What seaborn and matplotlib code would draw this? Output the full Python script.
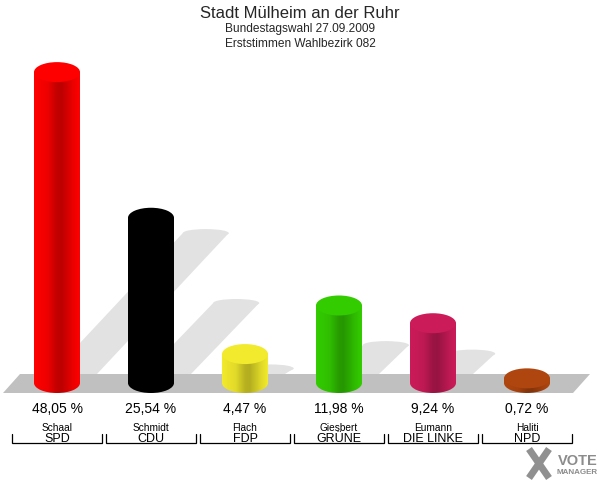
import numpy as np
import matplotlib
matplotlib.use("Agg")
import matplotlib.pyplot as plt
from matplotlib.patches import Ellipse, Polygon
from matplotlib.lines import Line2D
from matplotlib.colors import to_rgb
import seaborn as sns

# data
parties = ["SPD", "CDU", "FDP", "GRÜNE", "DIE LINKE", "NPD"]
candidates = ["Schaal", "Schmidt", "Flach", "Giesbert", "Eumann", "Haliti"]
values = [48.05, 25.54, 4.47, 11.98, 9.24, 0.72]
colors = ["#ff0000", "#000000", "#f2ea2c", "#33cc00", "#cc1b59", "#b0460f"]

# pixel layout helpers (600x480 canvas)
BASE_PX = 383.0      # pixel row of the value 0
PX_PER_PCT = 6.47
PX_PER_CAT = 94.0
FIRST_PX = 57.0


def py(p):
    return (BASE_PX - p) / PX_PER_PCT


def px(p):
    return (p - FIRST_PX) / PX_PER_CAT


sns.set_theme(style="white")
plt.rcParams["font.family"] = ["Liberation Sans", "DejaVu Sans"]

fig = plt.figure(figsize=(6, 4.8), dpi=100)
ax = fig.add_axes([0, 0, 1, 1])
ax.set_axis_off()

bar_w = 46 / PX_PER_CAT
ell_h = 20 / PX_PER_PCT

sns.barplot(x=parties, y=values, hue=parties, palette=colors, width=bar_w,
            legend=False, ax=ax, linewidth=0, zorder=3)
bars = list(ax.patches)

# floor
floor_top = py(374)
floor = Polygon([(px(3), py(393)), (px(573), py(393)), (px(590), py(374)), (px(20), py(374))],
                closed=True, facecolor="#c0c0c0", edgecolor="none", zorder=0)
ax.add_patch(floor)

# shadows
for i, v in enumerate(values):
    h = 0.48 * (v - floor_top)
    if h <= 0:
        continue
    s = 0.0626 * h
    c = i + 17 / PX_PER_CAT
    cap = 8 / PX_PER_PCT
    shadow = Polygon([(c - bar_w / 2, floor_top), (c + bar_w / 2, floor_top),
                      (c + bar_w / 2 + s, floor_top + h - cap / 2),
                      (c - bar_w / 2 + s, floor_top + h - cap / 2)],
                     closed=True, facecolor="#e2e2e2", edgecolor="none", zorder=1)
    ax.add_patch(shadow)
    ax.add_patch(Ellipse((c + s, floor_top + h - cap / 2), bar_w, cap,
                         facecolor="#e2e2e2", edgecolor="none", zorder=1))

# cylinder shading
t = np.linspace(0, 1, 64)
shade = np.interp(t, [0, 0.3, 0.5, 0.6, 0.85, 1], [1.0, 0.93, 0.76, 0.74, 0.92, 1.0])
for i, (v, col) in enumerate(zip(values, colors)):
    rgb = np.array(to_rgb(col))
    grad = (shade[:, None] * rgb[None, :])[None, :, :]
    ext = [i - bar_w / 2, i + bar_w / 2, -ell_h / 2 - 0.2, v]
    bottom = Ellipse((i, 0), bar_w, ell_h, facecolor="none", edgecolor="none")
    ax.add_patch(bottom)
    im1 = ax.imshow(grad, extent=ext, aspect="auto", zorder=4, interpolation="bilinear")
    im1.set_clip_path(bottom)
    im2 = ax.imshow(grad, extent=ext, aspect="auto", zorder=5, interpolation="bilinear")
    im2.set_clip_path(bars[i])
    top = Ellipse((i, v), bar_w, ell_h, facecolor=col, edgecolor="none", zorder=6)
    ax.add_patch(top)

# labels below
for i, (v, cand, party) in enumerate(zip(values, candidates, parties)):
    ax.text(i, py(413), f"{v:.2f}".replace(".", ",") + " %", ha="center", va="baseline",
            fontsize=10, color="black")
    ax.text(i, py(431), cand, ha="center", va="baseline", fontsize=7.3, color="black")
    ax.text(i, py(442), party, ha="center", va="baseline", fontsize=9, color="black")
    l, r = i - 45 / PX_PER_CAT, i + 45 / PX_PER_CAT
    ax.plot([l, l, r, r], [py(434), py(443), py(443), py(434)], color="black", lw=0.9,
            solid_joinstyle="miter")

ax.set_xlim(px(0), px(600))
ax.set_ylim(py(480), py(0))

# titles
fig.text(0.5, 1 - 18 / 480, "Stadt Mülheim an der Ruhr", ha="center", va="baseline", fontsize=12)
fig.text(0.5, 1 - 32 / 480, "Bundestagswahl 27.09.2009", ha="center", va="baseline", fontsize=8.6)
fig.text(0.5, 1 - 47 / 480, "Erststimmen Wahlbezirk 082", ha="center", va="baseline", fontsize=8.6)

# logo
for xa, ya, xb, yb in [(529, 449, 549, 478), (549, 449, 529, 478)]:
    fig.add_artist(Line2D([xa / 600, xb / 600], [1 - ya / 480, 1 - yb / 480], color="#909090",
                          lw=5, solid_capstyle="butt"))
fig.text(598 / 600, 1 - 465 / 480, "VOTE", ha="right", va="baseline", fontsize=10.5,
         fontweight="bold", color="#8c8c8c")
fig.text(598 / 600, 1 - 474 / 480, "MANAGER", ha="right", va="baseline", fontsize=5.8,
         fontweight="bold", color="#8c8c8c")

fig.savefig("out.png", dpi=100, facecolor="white")
